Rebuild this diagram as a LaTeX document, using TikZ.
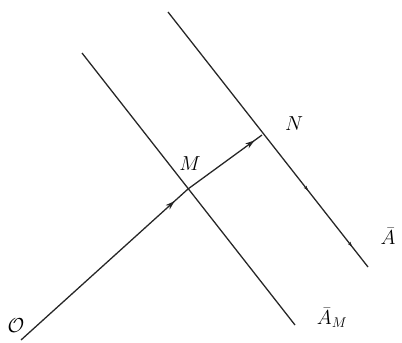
\documentclass[tikz,border=0pt]{standalone}
\usetikzlibrary{arrows.meta,decorations.markings}
\begin{document}
\begin{tikzpicture}[x=0.03cm,y=-0.03cm,
  ln/.style={line width=1.1pt,draw=black!85},
  lab/.style={inner sep=0pt,font=\LARGE\itshape},
  midtip/.style={postaction={decorate},decoration={markings,
     mark=at position #1 with {\arrow{Stealth[length=8pt,width=5pt]}}}},
  smalltip/.style={postaction={decorate},decoration={markings,
     mark=at position #1 with {\arrow{Stealth[length=4pt,width=2.5pt]}}}}]
\useasboundingbox (0,0) rectangle (402,342);
\coordinate (L1a) at (82,53);
\coordinate (L1b) at (295,325);
\coordinate (L2a) at (168,12);
\coordinate (L2b) at (368,267);
\coordinate (O) at (21,340);
\coordinate (M) at (188,189);
\coordinate (N) at (262,135);
\draw[ln] (L1a) -- (L1b);
\draw[ln,smalltip=0.7,smalltip=0.92] (L2a) -- (L2b);
\draw[ln,midtip=0.92] (O) -- (M);
\draw[ln,midtip=0.9] (M) -- (N);
\node[lab] (o) at (16,326) {$\mathcal{O}$};
\node[lab] (m) at (190,164) {$M$};
\node[lab] (n) at (294,124) {$N$};
\node[lab] (a) at (388,236) {$\bar{A}$};
\node[lab] (am) at (332,318) {$\bar{A}_M$};
\end{tikzpicture}
\end{document}
